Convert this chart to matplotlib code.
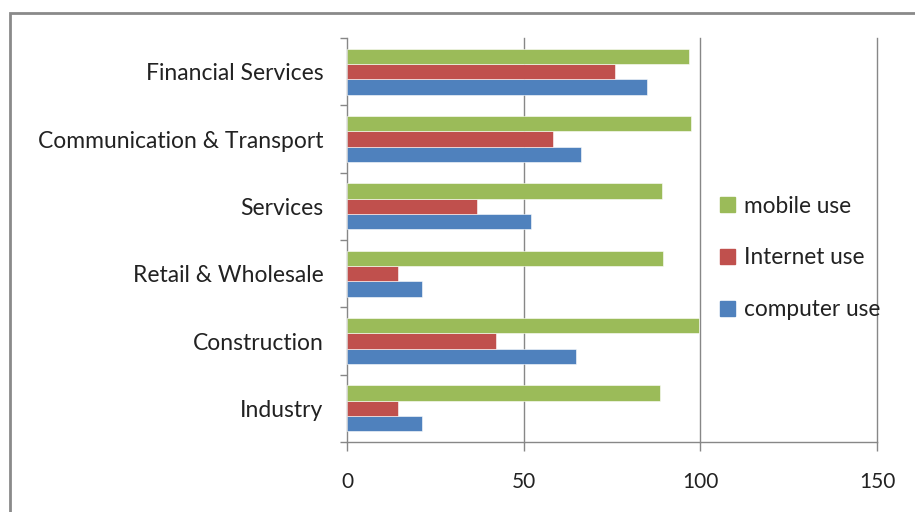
import matplotlib
matplotlib.use("Agg")
import matplotlib.pyplot as plt
from matplotlib.patches import Rectangle, Patch
import numpy as np

# sectors, bottom to top as drawn on the y axis
sectors = ["Industry", "Construction", "Retail & Wholesale", "Services",
           "Communication & Transport", "Financial Services"]
computer_use = [21.3, 64.9, 21.3, 52.2, 66.2, 85.0]
internet_use = [14.5, 42.2, 14.5, 36.8, 58.2, 75.8]
mobile_use = [88.5, 99.5, 89.5, 89.1, 97.3, 96.7]
x_ticks = [0, 50, 100, 150]

BLUE = "#4F81BD"
RED = "#C0504D"
GREEN = "#9BBB59"
GRID = "#878787"

plt.rcParams["font.family"] = ["Lato", "DejaVu Sans"]

fig = plt.figure(figsize=(9.15, 5.12), dpi=100)
ax = fig.add_axes([347 / 915, 1 - 442 / 512, 530 / 915, 404 / 512])

# chart border
fig.patches.append(Rectangle((10 / 915, -0.05), 1.2, 1 - 13 / 512 + 0.05,
                             transform=fig.transFigure, fill=False,
                             edgecolor="#8a8a8a", linewidth=2))

y = np.arange(len(sectors))
h = 0.228
bar_kw = dict(height=h, edgecolor="white", linewidth=0.4, zorder=3)
ax.barh(y - h, computer_use, color=BLUE, label="computer use", **bar_kw)
ax.barh(y, internet_use, color=RED, label="Internet use", **bar_kw)
ax.barh(y + h, mobile_use, color=GREEN, label="mobile use", **bar_kw)

ax.set_xlim(0, 150)
ax.set_ylim(-0.5, len(sectors) - 0.5)
ax.set_xticks(x_ticks)
ax.set_xticklabels([str(t) for t in x_ticks])
ax.set_yticks(y)
ax.set_yticklabels(sectors)
ax.set_yticks(np.arange(-0.5, len(sectors)), minor=True)

for xv in x_ticks[1:]:
    ax.axvline(xv, color=GRID, linewidth=1.0, zorder=1, clip_on=False)

for side in ["top", "right"]:
    ax.spines[side].set_visible(False)
for side in ["left", "bottom"]:
    ax.spines[side].set_color(GRID)
    ax.spines[side].set_linewidth(1.0)

ax.tick_params(axis="x", length=6.5, color=GRID, width=1.0, pad=15,
               labelsize=15, labelcolor="#222222")
ax.tick_params(axis="y", which="major", length=0, pad=17,
               labelsize=16.5, labelcolor="#222222")
ax.tick_params(axis="y", which="minor", length=5, color=GRID, width=1.0)

handles = [Patch(color=GREEN, label="mobile use"),
           Patch(color=RED, label="Internet use"),
           Patch(color=BLUE, label="computer use")]
fig.legend(handles=handles, loc="center left",
           bbox_to_anchor=(700 / 915, 1 - 258 / 512), frameon=False,
           fontsize=16.3, labelspacing=1.36, handlelength=0.65,
           handleheight=0.65, handletextpad=0.4, labelcolor="#222222")

fig.savefig("out.png", dpi=100)
